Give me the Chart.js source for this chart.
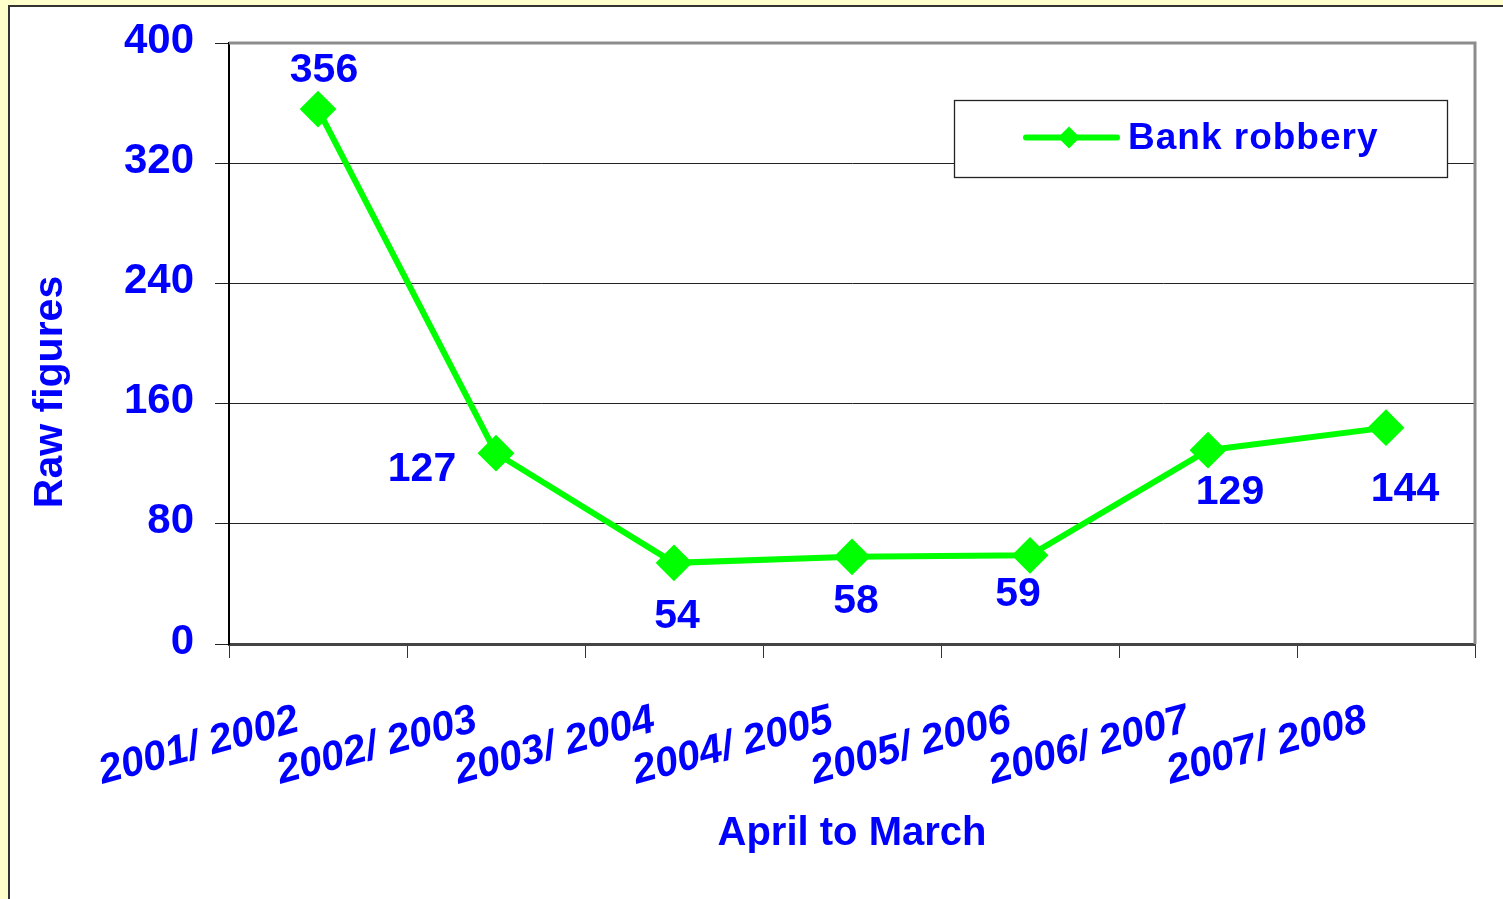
<!DOCTYPE html>
<html><head><meta charset="utf-8">
<script src="https://cdn.jsdelivr.net/npm/chart.js@4/dist/chart.umd.min.js"></script>
<style>
html,body{margin:0;padding:0;overflow:hidden;background:#FFFFCC}
#wrap{position:absolute;left:0;top:0;width:1503px;height:899px}
</style>
</head><body><div id="wrap"><canvas id="c" width="1503" height="899"></canvas></div>
<script>
// ---- data ----
const categories = ['2001/ 2002','2002/ 2003','2003/ 2004','2004/ 2005','2005/ 2006','2006/ 2007','2007/ 2008'];
const bankRobbery = [356, 127, 54, 58, 59, 129, 144];
const yTickValues = [0, 80, 160, 240, 320, 400];
const seriesName = 'Bank robbery';
const xTitle = 'April to March';
const yTitle = 'Raw figures';

// ---- label placement (px offsets from each point, baseline) ----
const labelDx = [6, -74, 3, 4, -12, 22, 19];
const labelDy = [-27, 28, 65, 56, 51, 54, 73];

const BLUE = '#0000FF';
const GREEN = '#00FF00';
const FAM = "'Liberation Sans', Arial, sans-serif";

function diamond(ctx, x, y, r) {
  ctx.beginPath();
  ctx.moveTo(x - r, y); ctx.lineTo(x, y - r); ctx.lineTo(x + r, y); ctx.lineTo(x, y + r);
  ctx.closePath();
}

const decor = {
  id: 'decor',
  beforeDraw(chart) {
    const ctx = chart.ctx;
    ctx.save();
    ctx.fillStyle = '#FFFFCC';
    ctx.fillRect(0, 0, chart.width, chart.height);
    ctx.fillStyle = '#FFFFFF';
    ctx.fillRect(9, 6, chart.width, chart.height);
    ctx.strokeStyle = '#333';
    ctx.lineWidth = 2;
    ctx.beginPath();
    ctx.moveTo(9, chart.height + 4); ctx.lineTo(9, 6); ctx.lineTo(chart.width + 4, 6);
    ctx.stroke();
    ctx.restore();
  },
  beforeDatasetsDraw(chart) {
    const ctx = chart.ctx, a = chart.chartArea;
    ctx.save();
    ctx.strokeStyle = '#8c8c8c';
    ctx.lineWidth = 3;
    ctx.beginPath();
    ctx.moveTo(a.left, a.top); ctx.lineTo(a.right, a.top); ctx.lineTo(a.right, a.bottom);
    ctx.stroke();
    // y axis title
    ctx.fillStyle = BLUE;
    ctx.font = 'bold 41px ' + FAM;
    ctx.translate(61.5, 392);
    ctx.rotate(-Math.PI / 2);
    ctx.textAlign = 'center';
    ctx.textBaseline = 'alphabetic';
    ctx.fillText(yTitle, 0, 0);
    ctx.restore();
  },
  afterDatasetsDraw(chart) {
    const ctx = chart.ctx;
    const meta = chart.getDatasetMeta(0);
    ctx.save();
    ctx.fillStyle = BLUE;
    ctx.font = 'bold 41px ' + FAM;
    ctx.textAlign = 'center';
    ctx.textBaseline = 'alphabetic';
    meta.data.forEach((pt, i) => {
      ctx.fillText(String(bankRobbery[i]), pt.x + labelDx[i], pt.y + labelDy[i]);
    });
    // legend
    ctx.fillStyle = '#FFFFFF';
    ctx.fillRect(954.5, 100.5, 493, 77);
    ctx.strokeStyle = '#222';
    ctx.lineWidth = 1.3;
    ctx.strokeRect(954.5, 100.5, 493, 77);
    ctx.strokeStyle = GREEN;
    ctx.lineWidth = 6;
    ctx.lineCap = 'round';
    ctx.beginPath(); ctx.moveTo(1026, 137.5); ctx.lineTo(1117, 137.5); ctx.stroke();
    ctx.fillStyle = GREEN;
    diamond(ctx, 1069, 137.5, 11); ctx.fill();
    ctx.fillStyle = BLUE;
    ctx.font = 'bold 37px ' + FAM;
    ctx.textAlign = 'left';
    try { ctx.letterSpacing = '1px'; } catch (e) {}
    ctx.fillText(seriesName, 1128, 149);
    ctx.restore();
  }
};

new Chart(document.getElementById('c'), {
  type: 'line',
  data: {
    labels: categories,
    datasets: [{
      label: seriesName,
      data: bankRobbery,
      borderColor: GREEN,
      backgroundColor: GREEN,
      borderWidth: 6,
      pointStyle: 'rectRot',
      pointRadius: 17,
      pointBorderWidth: 2,
      pointBackgroundColor: GREEN,
      pointBorderColor: GREEN,
      tension: 0,
      fill: false
    }]
  },
  options: {
    responsive: false,
    animation: false,
    devicePixelRatio: 1,
    layout: { padding: { top: 43, right: 28, left: 0, bottom: 0 } },
    plugins: { legend: { display: false }, tooltip: { enabled: false } },
    scales: {
      x: {
        offset: true,
        grid: { offset: true, drawOnChartArea: false, drawTicks: true, tickLength: 14, color: '#333', lineWidth: 1 },
        border: { display: true, color: '#444', width: 3 },
        ticks: {
          autoSkip: false, minRotation: 15, maxRotation: 15,
          padding: 38, labelOffset: -20,
          color: BLUE, font: { family: FAM, size: 41, weight: 'bold', style: 'italic' }
        },
        title: {
          display: true, text: xTitle, color: BLUE,
          font: { family: FAM, size: 40, weight: 'bold' },
          padding: { top: 0, bottom: 41 }
        },
        afterFit(scale) { scale.height = 255; }
      },
      y: {
        min: 0, max: 400,
        afterBuildTicks(scale) { scale.ticks = yTickValues.map(v => ({ value: v })); },
        grid: { color: '#222', lineWidth: 1, tickLength: 14, drawTicks: true },
        border: { display: true, color: '#000', width: 2 },
        ticks: {
          padding: 21, labelOffset: -2,
          color: BLUE, font: { family: FAM, size: 42, weight: 'bold', lineHeight: 1 }
        },
        afterFit(scale) { scale.width = 229; }
      }
    }
  },
  plugins: [decor]
});
</script>
</body></html>
